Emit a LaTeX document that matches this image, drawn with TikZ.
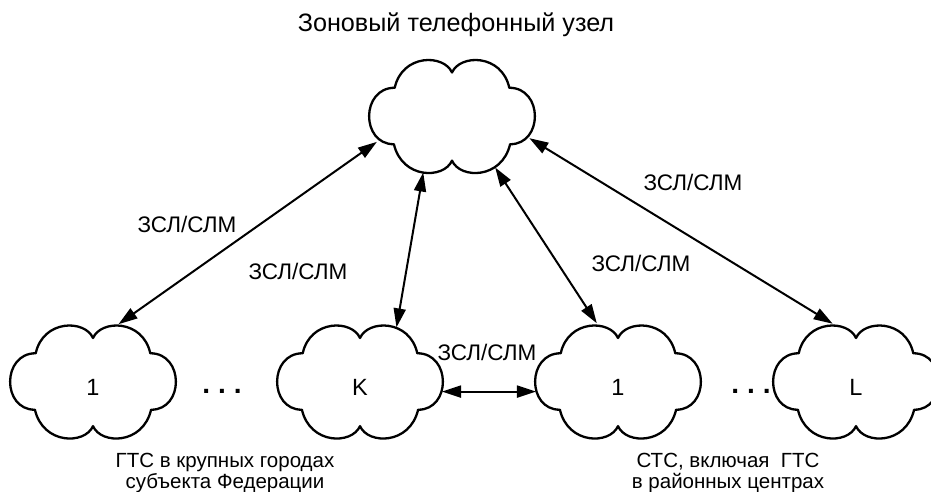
\documentclass[tikz,border=0pt]{standalone}
\usepackage{fontspec}
\setmainfont{Liberation Sans}
\usetikzlibrary{arrows.meta,shapes.geometric}

\begin{document}
\begin{tikzpicture}[x=1pt,y=-1pt,
    cloudline/.style={line width=2.3pt,line join=round},
    cloudnode/.style={ellipse,minimum width=166pt,minimum height=120pt,inner sep=0pt,
        text height=27pt,text depth=0pt,font=\fontsize{23.5}{26}\selectfont},
    biarrow/.style={line width=2pt,{Triangle[length=19pt,width=12pt]}-{Triangle[length=19pt,width=12pt]}},
    lbl/.style={font=\fontsize{22.5}{24}\selectfont},
    capt/.style={align=center,font=\fontsize{20.5}{21.5}\selectfont},
    dotsnode/.style={font=\fontsize{28}{30}\selectfont\bfseries}]

\useasboundingbox (0,0) rectangle (931,492);
\def\CLOUD{(0,0.77) .. controls (-0.1,1.1) and (-0.6,1.1) .. (-0.69,0.5)
    .. controls (-1.1,0.5) and (-1.1,-0.5) .. (-0.7,-0.5)
    .. controls (-0.6,-1.12) and (-0.1,-1.12) .. (0,-0.79)
    .. controls (0.1,-1.12) and (0.6,-1.12) .. (0.7,-0.5)
    .. controls (1.1,-0.5) and (1.1,0.5) .. (0.69,0.5)
    .. controls (0.6,1.1) and (0.1,1.1) .. (0,0.77) -- cycle}

	\node[font=\fontsize{25.2}{28}\selectfont] (title) at (456,25) {Зоновый телефонный узел};

	\node[cloudnode] (top) at (452,116) {};
	\node[cloudnode] (g1) at (93,381.5) {1};
	\node[cloudnode] (gk) at (360,381.5) {K};
	\node[cloudnode] (s1) at (618,381.5) {1};
	\node[cloudnode] (sl) at (856,381.5) {L};

	\draw[cloudline,shift={(top.center)},x=83pt,y=56.5pt] \CLOUD;
	\draw[cloudline,shift={(g1.center)},x=83pt,y=56.5pt] \CLOUD;
	\draw[cloudline,shift={(gk.center)},x=83pt,y=56.5pt] \CLOUD;
	\draw[cloudline,shift={(s1.center)},x=83pt,y=56.5pt] \CLOUD;
	\draw[cloudline,shift={(sl.center)},x=83pt,y=56.5pt] \CLOUD;

	\node[dotsnode] (dotsg) at (222,391) {.\hspace{8pt}.\hspace{8pt}.};
	\node[dotsnode] (dotss) at (751,391) {.\hspace{8pt}.\hspace{8pt}.};

	\draw[biarrow] (top.199) -- (g1.66);
	\draw[biarrow] (top.243) -- (gk.56);
	\draw[biarrow] (top.310) -- (s1.110);
	\draw[biarrow] (top.344) -- (sl.112);
	\draw[biarrow] (gk.-7) -- (s1.187);

	\node[lbl] (lga) at (187,224) {ЗСЛ/СЛМ};
	\node[lbl] (lgk) at (298,271) {ЗСЛ/СЛМ};
	\node[lbl] (lsa) at (641,263) {ЗСЛ/СЛМ};
	\node[lbl] (lsl) at (693,182) {ЗСЛ/СЛМ};
	\node[lbl] (lks) at (487,352) {ЗСЛ/СЛМ};

	\node[capt] (capg) at (225,473) {ГТС в крупных городах\\субъекта Федерации};
	\node[capt] (caps) at (728,473) {СТС, включая\ \ ГТС\\в районных центрах};

\end{tikzpicture}
\end{document}
